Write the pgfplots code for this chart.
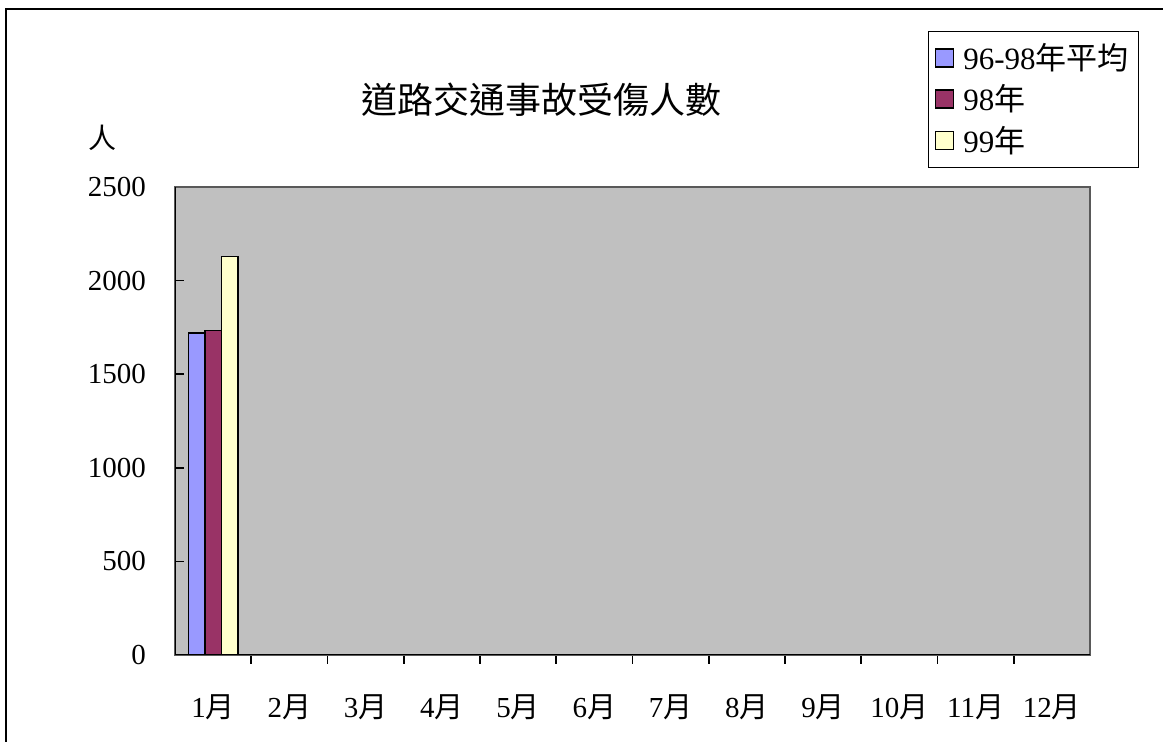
\documentclass[border=0pt]{standalone}
\usepackage{fontspec}
\setmainfont{Liberation Serif}
\newfontfamily\cjk{Noto Sans CJK TC}
\usepackage{pgfplots}
\pgfplotsset{compat=1.18}
\definecolor{plotgray}{HTML}{C0C0C0}
\definecolor{sblue}{HTML}{9999FF}
\definecolor{smaroon}{HTML}{993366}
\definecolor{syellow}{HTML}{FFFFCC}
\begin{document}
\begin{tikzpicture}
\path[use as bounding box] (0,0) rectangle (581.5pt,371pt);
\draw[black, line width=0.8pt] (3pt,0pt) -- (3pt,366.5pt) -- (581.5pt,366.5pt);
\node[font=\fontsize{18}{22}\selectfont\cjk] at (270.5pt,321pt) {道路交通事故受傷人數};
\node[font=\fontsize{14}{17}\selectfont\cjk] at (51pt,302pt) {人};
\begin{axis}[
  at={(87.5pt,43.5pt)}, anchor=south west,
  scale only axis, width=457.5pt, height=234pt,
  xmin=0.5, xmax=12.5, ymin=0, ymax=2500,
  ytick={0,500,...,2500},
  xtick={1,...,12},
  xticklabels={1{\cjk 月},2{\cjk 月},3{\cjk 月},4{\cjk 月},5{\cjk 月},6{\cjk 月},7{\cjk 月},8{\cjk 月},9{\cjk 月},10{\cjk 月},11{\cjk 月},12{\cjk 月}},
  minor xtick={1.5,2.5,...,11.5},
  xtick pos=bottom, ytick pos=left,
  xtick style={draw=none},
  minor x tick style={draw=black, line width=0.8pt},
  ytick style={black, line width=0.8pt},
  major tick length=4.5pt, minor tick length=4.5pt,
  tick align=inside,
  /pgf/number format/assume math mode=true,
  /pgf/number format/1000 sep={},
  ticklabel style={font=\fontsize{14.5}{17}\selectfont},
  yticklabel style={xshift=-11pt},
  xticklabel style={yshift=-12pt},
  axis background/.style={fill=plotgray},
  axis line style={draw=gray!70!black, line width=0.6pt},
  ybar=0pt, bar width=0.216,
  legend style={at={(0.823,1.3333)}, anchor=north west, draw=black, line width=0.5pt,
    font=\fontsize{15.5}{18}\selectfont, row sep=2pt, inner xsep=3pt, inner ysep=4pt,
    cells={anchor=west}, /tikz/every even column/.append style={column sep=0pt}},
  legend image code/.code={\draw[#1, line width=0.8pt] (0pt,-4.5pt) rectangle (9pt,4.5pt);},
]
\addplot[draw=black, line width=0.8pt, fill=sblue] coordinates {(1,1720)};
\addplot[draw=black, line width=0.8pt, fill=smaroon] coordinates {(1,1733)};
\addplot[draw=black, line width=0.8pt, fill=syellow] coordinates {(1,2128)};
\legend{\,96-98{\cjk 年平均},\,98{\cjk 年},\,99{\cjk 年}}
\draw[black, line width=1pt] (rel axis cs:0,0) -- (rel axis cs:0,1);
\draw[black, line width=1pt] (rel axis cs:0,0) -- (rel axis cs:1,0);
\end{axis}
\end{tikzpicture}
\end{document}
